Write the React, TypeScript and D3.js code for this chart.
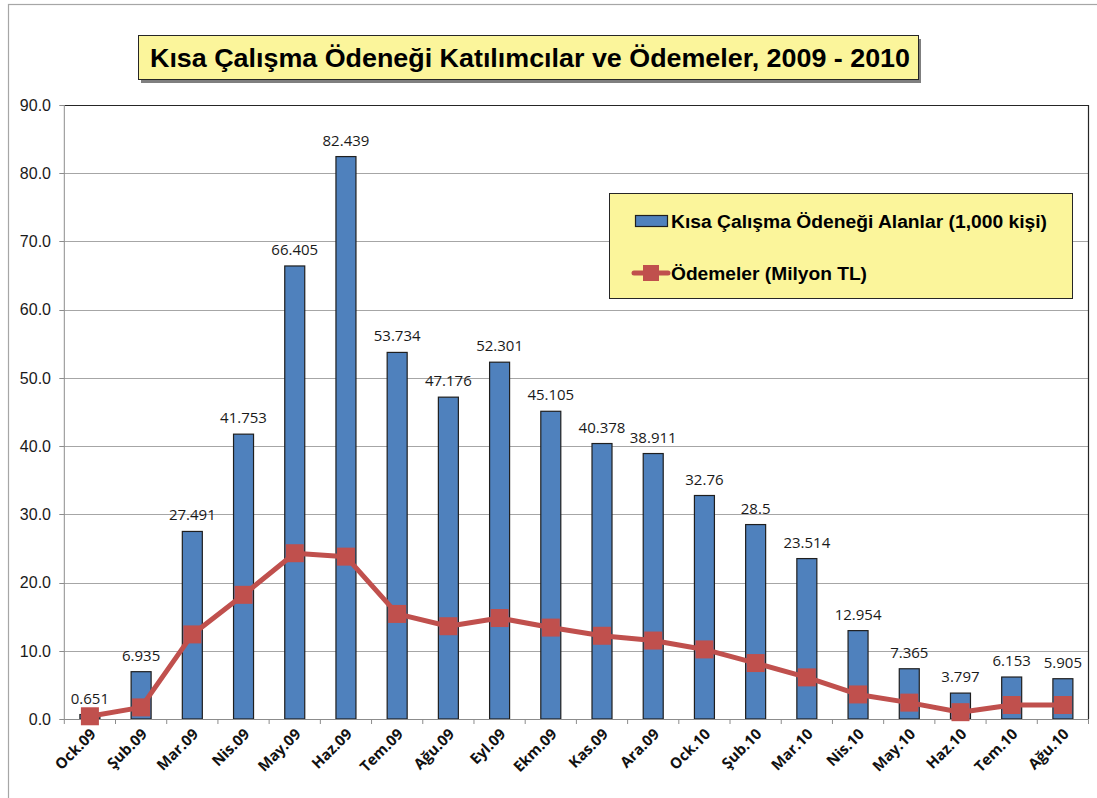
import { useEffect, useRef } from "react";
import * as d3 from "d3";

// months on the x axis
const months = [
  "Ock.09", "Şub.09", "Mar.09", "Nis.09", "May.09", "Haz.09", "Tem.09",
  "Ağu.09", "Eyl.09", "Ekm.09", "Kas.09", "Ara.09", "Ock.10", "Şub.10",
  "Mar.10", "Nis.10", "May.10", "Haz.10", "Tem.10", "Ağu.10",
];

// participants (1,000 people)
const participants = [
  0.651, 6.935, 27.491, 41.753, 66.405, 82.439, 53.734, 47.176, 52.301,
  45.105, 40.378, 38.911, 32.76, 28.5, 23.514, 12.954, 7.365, 3.797, 6.153,
  5.905,
];
const participantLabels = [
  "0.651", "6.935", "27.491", "41.753", "66.405", "82.439", "53.734",
  "47.176", "52.301", "45.105", "40.378", "38.911", "32.76", "28.5",
  "23.514", "12.954", "7.365", "3.797", "6.153", "5.905",
];

// payments (million TL)
const payments = [
  0.4, 1.7, 12.4, 18.2, 24.3, 23.8, 15.4, 13.6, 14.8, 13.4, 12.2, 11.5,
  10.2, 8.2, 6.1, 3.6, 2.4, 1.0, 2.05, 2.05,
];

const yTicks = [0, 10, 20, 30, 40, 50, 60, 70, 80, 90];

const title = "Kısa Çalışma Ödeneği Katılımcılar ve Ödemeler, 2009 - 2010";
const legendBars = "Kısa Çalışma Ödeneği Alanlar (1,000 kişi)";
const legendLine = "Ödemeler (Milyon TL)";

const App = () => {
  const ref = useRef<SVGSVGElement>(null);

  useEffect(() => {
    const svg = d3.select(ref.current);
    svg.selectAll("*").remove();

    const left = 64.3;
    const right = 1088.5;
    const top = 105;
    const bottom = 719;

    const x = d3.scaleBand().domain(months).range([left, right]).paddingInner(0);
    const y = d3.scaleLinear().domain([0, 90]).range([bottom, top]);
    const bw = 20;

    // outer border
    svg
      .append("rect")
      .attr("x", 8.5)
      .attr("y", 4.5)
      .attr("width", 1100)
      .attr("height", 800)
      .attr("fill", "#fff")
      .attr("stroke", "#a6a6a6")
      .attr("stroke-width", 1.2);

    // gridlines
    svg
      .append("g")
      .selectAll("line")
      .data(yTicks.filter((d) => d > 0 && d < 90))
      .join("line")
      .attr("x1", left)
      .attr("x2", right)
      .attr("y1", (d) => Math.round(y(d)) + 0.5)
      .attr("y2", (d) => Math.round(y(d)) + 0.5)
      .attr("stroke", "#a6a6a6")
      .attr("stroke-width", 1);

    // plot area top & right border
    svg
      .append("path")
      .attr("d", `M${left},${top + 0.5} H${right} V${bottom}`)
      .attr("fill", "none")
      .attr("stroke", "#262626")
      .attr("stroke-width", 1.2);

    // y axis
    const yAxis = svg.append("g");
    yAxis
      .append("line")
      .attr("x1", left)
      .attr("x2", left)
      .attr("y1", top)
      .attr("y2", bottom)
      .attr("stroke", "#8c8c8c");
    yAxis
      .selectAll("line.tick")
      .data(yTicks)
      .join("line")
      .attr("class", "tick")
      .attr("x1", left - 5)
      .attr("x2", left)
      .attr("y1", (d) => Math.round(y(d)) + 0.5)
      .attr("y2", (d) => Math.round(y(d)) + 0.5)
      .attr("stroke", "#8c8c8c");
    yAxis
      .selectAll("text")
      .data(yTicks)
      .join("text")
      .attr("x", 51)
      .attr("y", (d) => y(d))
      .attr("dy", "0.36em")
      .attr("text-anchor", "end")
      .attr("font-family", "Liberation Sans, Arial, sans-serif")
      .attr("font-size", 16)
      .attr("fill", "#1a1a1a")
      .text((d) => d.toFixed(1));

    // bars
    svg
      .append("g")
      .selectAll("rect")
      .data(participants)
      .join("rect")
      .attr("x", (_, i) => (x(months[i]) as number) + x.bandwidth() / 2 - bw / 2)
      .attr("y", (d) => y(d))
      .attr("width", bw)
      .attr("height", (d) => bottom - y(d))
      .attr("fill", "#4f81bd")
      .attr("stroke", "#1f1f1f")
      .attr("stroke-width", 1.2);

    // x axis
    const xAxis = svg.append("g");
    xAxis
      .append("line")
      .attr("x1", left)
      .attr("x2", right)
      .attr("y1", bottom + 0.5)
      .attr("y2", bottom + 0.5)
      .attr("stroke", "#8c8c8c");
    xAxis
      .selectAll("line.tick")
      .data(d3.range(months.length + 1))
      .join("line")
      .attr("class", "tick")
      .attr("x1", (i) => left + i * x.bandwidth())
      .attr("x2", (i) => left + i * x.bandwidth())
      .attr("y1", bottom)
      .attr("y2", bottom + 5)
      .attr("stroke", "#8c8c8c");
    xAxis
      .selectAll("text")
      .data(months)
      .join("text")
      .attr(
        "transform",
        (d) => `translate(${(x(d) as number) + x.bandwidth() / 2 + 7},${bottom + 16}) rotate(-45)`
      )
      .attr("text-anchor", "end")
      .attr("font-family", "Open Sans, Noto Sans, sans-serif")
      .attr("font-weight", "bold")
      .attr("font-size", 15)
      .attr("fill", "#111")
      .text((d) => d);

    // payments line
    const line = d3
      .line<number>()
      .x((_, i) => (x(months[i]) as number) + x.bandwidth() / 2)
      .y((d) => y(d));
    svg
      .append("path")
      .datum(payments)
      .attr("d", line)
      .attr("fill", "none")
      .attr("stroke", "#c0504d")
      .attr("stroke-width", 5)
      .attr("stroke-linejoin", "round");
    const ms = 18;
    svg
      .append("g")
      .selectAll("rect")
      .data(payments)
      .join("rect")
      .attr("x", (_, i) => (x(months[i]) as number) + x.bandwidth() / 2 - ms / 2)
      .attr("y", (d) => y(d) - ms / 2)
      .attr("width", ms)
      .attr("height", ms)
      .attr("fill", "#c0504d");

    // data labels
    svg
      .append("g")
      .selectAll("text")
      .data(participants)
      .join("text")
      .attr("x", (_, i) => (x(months[i]) as number) + x.bandwidth() / 2)
      .attr("y", (d) => y(d) - 11)
      .attr("text-anchor", "middle")
      .attr("font-family", "Open Sans, Noto Sans, sans-serif")
      .attr("font-size", 15)
      .attr("fill", "#1a1a1a")
      .text((_, i) => participantLabels[i]);

    // title box
    const tg = svg.append("g");
    tg.append("rect")
      .attr("x", 141)
      .attr("y", 39)
      .attr("width", 780)
      .attr("height", 44)
      .attr("fill", "#7f7f7f");
    tg.append("rect")
      .attr("x", 138.5)
      .attr("y", 35.5)
      .attr("width", 780)
      .attr("height", 44)
      .attr("fill", "#fbf59b")
      .attr("stroke", "#262626")
      .attr("stroke-width", 1);
    tg.append("text")
      .attr("x", 150)
      .attr("y", 67)
      .attr("textLength", 760)
      .attr("lengthAdjust", "spacingAndGlyphs")
      .attr("font-family", "Liberation Sans, Arial, sans-serif")
      .attr("font-weight", "bold")
      .attr("font-size", 26)
      .attr("fill", "#000")
      .text(title);

    // legend
    const lg = svg.append("g");
    lg.append("rect")
      .attr("x", 609.5)
      .attr("y", 193.5)
      .attr("width", 463)
      .attr("height", 105)
      .attr("fill", "#fbf59b")
      .attr("stroke", "#262626")
      .attr("stroke-width", 1);
    lg.append("rect")
      .attr("x", 635.5)
      .attr("y", 215.5)
      .attr("width", 32)
      .attr("height", 11)
      .attr("fill", "#4f81bd")
      .attr("stroke", "#1f1f1f")
      .attr("stroke-width", 1.2);
    lg.append("text")
      .attr("x", 671)
      .attr("y", 228)
      .attr("textLength", 376)
      .attr("lengthAdjust", "spacingAndGlyphs")
      .attr("font-family", "Liberation Sans, Arial, sans-serif")
      .attr("font-weight", "bold")
      .attr("font-size", 17.5)
      .attr("fill", "#000")
      .text(legendBars);
    lg.append("line")
      .attr("x1", 634)
      .attr("x2", 668)
      .attr("y1", 273)
      .attr("y2", 273)
      .attr("stroke", "#c0504d")
      .attr("stroke-width", 5)
      .attr("stroke-linecap", "round");
    lg.append("rect")
      .attr("x", 643)
      .attr("y", 265)
      .attr("width", 16)
      .attr("height", 16)
      .attr("fill", "#c0504d");
    lg.append("text")
      .attr("x", 671)
      .attr("y", 280)
      .attr("textLength", 196)
      .attr("lengthAdjust", "spacingAndGlyphs")
      .attr("font-family", "Liberation Sans, Arial, sans-serif")
      .attr("font-weight", "bold")
      .attr("font-size", 17.5)
      .attr("fill", "#000")
      .text(legendLine);
  }, []);

  return (
    <svg
      ref={ref}
      width={1097}
      height={798}
      style={{ position: "absolute", left: 0, top: 0, display: "block" }}
    />
  );
};

export default App;
